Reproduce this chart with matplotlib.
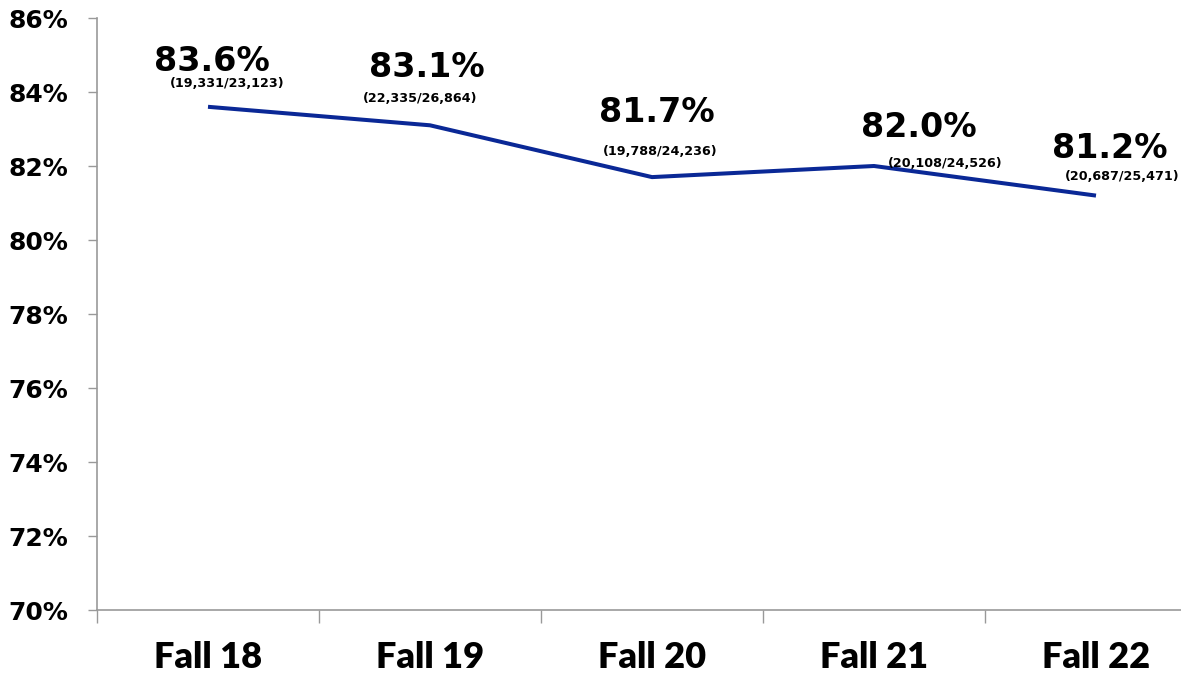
import matplotlib
matplotlib.use("Agg")
import matplotlib.pyplot as plt
import numpy as np

categories = ["Fall 18", "Fall 19", "Fall 20", "Fall 21", "Fall 22"]
rates = [83.6, 83.1, 81.7, 82.0, 81.2]
counts = ["(19,331/23,123)", "(22,335/26,864)", "(19,788/24,236)",
          "(20,108/24,526)", "(20,687/25,471)"]
yticks = [70, 72, 74, 76, 78, 80, 82, 84, 86]

# label offsets in pixels (dx, dy baseline relative to point; +dy = up)
big_off = [(4, 36), (-3, 48), (5, 55), (45, 29), (14, 38)]
sub_off = [(19, 20), (-10, 23), (8, 22), (71, -1), (26, 16)]

W, H = 1181, 676
fig = plt.figure(figsize=(W / 100, H / 100), dpi=100)
ax = fig.add_axes([97 / W, (H - 610) / H, 1110 / W, 592 / H])

x = np.arange(len(categories))
ax.plot(x, rates, color="#0A2896", linewidth=2.9, solid_capstyle="butt", clip_on=False)

ax.set_xlim(-0.5, 4.5)
ax.set_ylim(70, 86)
ax.set_yticks(yticks)
ax.set_yticklabels([f"{v}%" for v in yticks], fontsize=18, fontweight="bold")
ax.tick_params(axis="y", length=6.5, width=1, color="#999999", pad=14)

ax.set_xticks(np.arange(-0.5, 4.6, 1.0))
ax.set_xticklabels([])
ax.set_xticks(x, minor=True)
ax.set_xticklabels(categories, minor=True, fontsize=26, fontweight="heavy", family="Lato")
ax.tick_params(axis="x", which="major", length=9.5, width=1, color="#999999")
ax.tick_params(axis="x", which="minor", length=0, pad=22)

for s in ["top", "right"]:
    ax.spines[s].set_visible(False)
for s in ["left", "bottom"]:
    ax.spines[s].set_color("#999999")
    ax.spines[s].set_linewidth(1.2)

for i, (r, c) in enumerate(zip(rates, counts)):
    ax.annotate(f"{r:.1f}%", (x[i], r), xytext=big_off[i], textcoords="offset pixels",
                ha="center", va="baseline", fontsize=24, fontweight="bold", color="black")
    ax.annotate(c, (x[i], r), xytext=sub_off[i], textcoords="offset pixels",
                ha="center", va="baseline", fontsize=9.2, fontweight="bold", color="black")

fig.savefig("out.png", dpi=100)
